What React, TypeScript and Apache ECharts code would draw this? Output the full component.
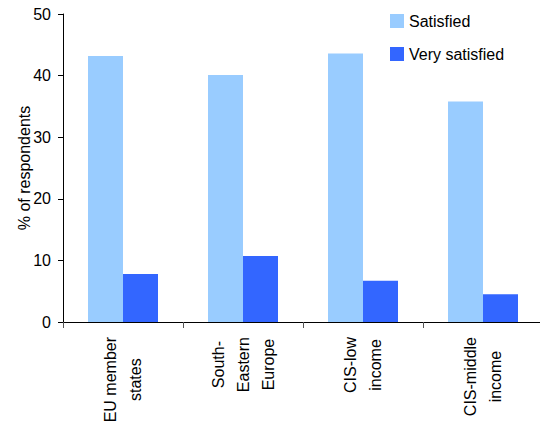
import React, { useEffect, useRef } from "react";
import * as echarts from "echarts";

const categories = ["EU member\nstates", "South-\nEastern\nEurope", "CIS-low\nincome", "CIS-middle\nincome"];
const satisfied = [43.2, 40.1, 43.6, 35.8];
const verySatisfied = [7.8, 10.7, 6.7, 4.5];
const seriesNames = ["Satisfied", "Very satisfied"];
const yTicks = { min: 0, max: 50, interval: 10 };

const FONT = "'Liberation Sans', Arial, sans-serif";

export default function App() {
  const ref = useRef<HTMLDivElement>(null);
  useEffect(() => {
    if (!ref.current) return;
    const chart = echarts.init(ref.current, undefined, { renderer: "svg" });
    chart.setOption({
      animation: false,
      textStyle: { fontFamily: FONT },
      grid: { left: 63, right: -3, top: 14, bottom: 103, containLabel: false, outerBoundsMode: "none" },
      legend: {
        orient: "vertical",
        left: 390,
        top: 11,
        padding: 0,
        itemWidth: 14,
        itemHeight: 14,
        itemGap: 13,
        icon: "rect",
        textStyle: { fontFamily: FONT, fontSize: 16, color: "#000", lineHeight: 20 },
        data: seriesNames,
      },
      xAxis: {
        type: "category",
        data: categories,
        axisLine: { lineStyle: { color: "#000", width: 1 } },
        axisTick: { show: true, length: 6, alignWithLabel: false, lineStyle: { color: "#555" } },
        axisLabel: {
          rotate: 90,
          margin: 15,
          interval: 0,
          color: "#000",
          fontFamily: FONT,
          fontSize: 16,
          formatter: (v: string) => v.split("\n").map((l) => `{c|${l}}`).join("\n"),
          rich: { c: { align: "center", lineHeight: 25, fontSize: 16, fontFamily: FONT, color: "#000" } },
        },
      },
      yAxis: {
        type: "value",
        min: yTicks.min,
        max: yTicks.max,
        interval: yTicks.interval,
        name: "% of respondents",
        nameLocation: "middle",
        nameGap: 31,
        nameMoveOverlap: false,
        nameTextStyle: { fontFamily: FONT, fontSize: 16, color: "#000" },
        axisLine: { show: true, lineStyle: { color: "#000", width: 1 } },
        axisTick: { show: true, length: 5, lineStyle: { color: "#000" } },
        splitLine: { show: false },
        axisLabel: { margin: 12, color: "#000", fontFamily: FONT, fontSize: 16 },
      },
      series: [
        {
          name: seriesNames[0],
          type: "bar",
          data: satisfied,
          barWidth: 35,
          barGap: "0%",
          itemStyle: { color: "#99CCFF" },
        },
        {
          name: seriesNames[1],
          type: "bar",
          data: verySatisfied,
          barWidth: 35,
          barGap: "0%",
          itemStyle: { color: "#3366FF" },
        },
      ],
    });
    return () => chart.dispose();
  }, []);
  return (
    <div
      ref={ref}
      style={{ position: "fixed", left: 0, top: 0, width: 540, height: 425, background: "#fff" }}
    />
  );
}
